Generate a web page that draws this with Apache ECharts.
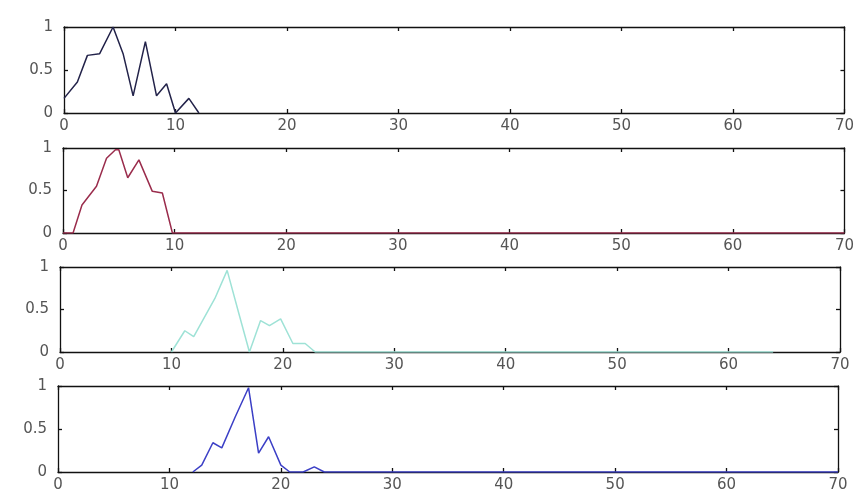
<!DOCTYPE html>
<html><head><meta charset="utf-8">
<script src="https://cdn.jsdelivr.net/npm/echarts@6/dist/echarts.min.js"></script>
<style>html,body{margin:0;padding:0;background:#fff}#c{width:857px;height:499px}</style>
</head><body><div id="c"></div>
<script>
// Panel data (x, y)
var x1 = [0, 1.2, 2.1, 3.2, 4.4, 5.3, 6.2, 7.3, 8.3, 9.2, 10, 11.2, 12.1];
var y1 = [0.17, 0.36, 0.67, 0.69, 1.0, 0.69, 0.2, 0.83, 0.2, 0.34, 0, 0.17, 0];
var x2 = [0, 0.9, 1.7, 3.0, 3.9, 4.7, 5.0, 5.8, 6.8, 8.0, 8.9, 9.8, 70];
var y2 = [0, 0, 0.33, 0.55, 0.88, 0.98, 0.98, 0.65, 0.86, 0.49, 0.47, 0, 0];
var x3 = [10, 11.2, 12, 13.9, 15, 16.1, 17, 18, 18.8, 19.8, 20.9, 22, 22.9, 64];
var y3 = [0, 0.25, 0.18, 0.63, 0.96, 0.43, 0, 0.37, 0.31, 0.39, 0.1, 0.1, 0, 0];
var x4 = [12.1, 12.9, 13.9, 14.7, 15.9, 17.1, 18, 18.9, 20, 20.8, 22, 23, 23.9, 70];
var y4 = [0, 0.08, 0.34, 0.28, 0.64, 0.98, 0.22, 0.41, 0.08, 0, 0, 0.06, 0, 0];
var xTicks = [0, 10, 20, 30, 40, 50, 60, 70];
var yTicks = [0, 0.5, 1];

var xsAll = [x1, x2, x3, x4];
var ysAll = [y1, y2, y3, y4];
var colors = ['#23234a', '#9a2c4c', '#9ee2d6', '#3b3fc6'];
var grids = [
  {left: 64, right: 12, top: 27, height: 86},
  {left: 63, right: 11, top: 148, height: 85},
  {left: 60, right: 17, top: 267, height: 85},
  {left: 58, right: 19, top: 386, height: 86}
];
function pairs(xs, ys){ return xs.map(function(v,i){ return [v, ys[i]]; }); }

var font = 'DejaVu Sans';
var option = {animation: false, grid: grids, xAxis: [], yAxis: [], series: []};
grids.forEach(function(g, i){
  var lineStyle = {color: '#111', width: 1.3};
  option.xAxis.push({
    type: 'value', gridIndex: i, min: xTicks[0], max: xTicks[xTicks.length-1], interval: 10,
    position: 'bottom',
    axisLine: {show: true, onZero: false, lineStyle: lineStyle},
    axisTick: {show: true, inside: true, length: 4, lineStyle: lineStyle},
    axisLabel: {color: '#555', fontFamily: font, fontSize: 15, margin: 6},
    splitLine: {show: false}
  });
  option.xAxis.push({
    type: 'value', gridIndex: i, min: 0, max: 70, interval: 10, position: 'top',
    axisLine: {show: true, onZero: false, lineStyle: lineStyle},
    axisTick: {show: true, inside: true, length: 4, lineStyle: lineStyle},
    axisLabel: {show: false}, splitLine: {show: false}
  });
  option.yAxis.push({
    type: 'value', gridIndex: i, min: 0, max: 1, interval: 0.5, position: 'left',
    axisLine: {show: true, onZero: false, lineStyle: lineStyle},
    axisTick: {show: true, inside: true, length: 4, lineStyle: lineStyle},
    axisLabel: {color: '#555', fontFamily: font, fontSize: 15, margin: 11,
      formatter: function(v){ return v === 0.5 ? '0.5' : String(v); }},
    splitLine: {show: false}
  });
  option.yAxis.push({
    type: 'value', gridIndex: i, min: 0, max: 1, interval: 0.5, position: 'right',
    axisLine: {show: true, onZero: false, lineStyle: lineStyle},
    axisTick: {show: true, inside: true, length: 4, lineStyle: lineStyle},
    axisLabel: {show: false}, splitLine: {show: false}
  });
  option.series.push({
    type: 'line', xAxisIndex: 2*i, yAxisIndex: 2*i, data: pairs(xsAll[i], ysAll[i]),
    showSymbol: false, symbol: 'none', z: 5,
    lineStyle: {color: colors[i], width: 1.5}
  });
});
var chart = echarts.init(document.getElementById('c'), null, {renderer: 'canvas'});
chart.setOption(option);
</script>
</body></html>
